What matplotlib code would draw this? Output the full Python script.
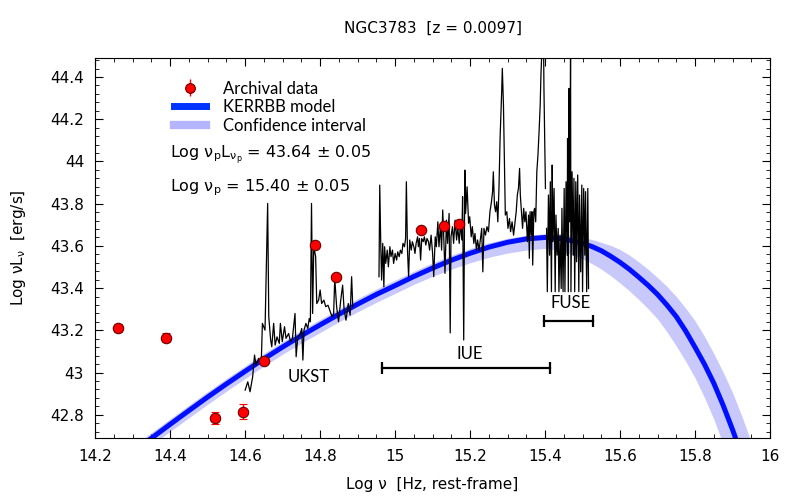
import matplotlib.pyplot as plt
import numpy as np

# archival photometry
arch_x = [14.26, 14.389, 14.52, 14.593, 14.651, 14.785, 14.843, 15.068, 15.131, 15.171]
arch_y = [43.21, 43.165, 42.785, 42.815, 43.055, 43.605, 43.455, 43.675, 43.695, 43.705]
arch_err = [0.02, 0.02, 0.03, 0.035, 0.01, 0.01, 0.01, 0.01, 0.01, 0.01]

# KERRBB model and confidence band
mod_x = [14.30, 14.35, 14.40, 14.45, 14.50, 14.55, 14.60, 14.65, 14.70, 14.75, 14.80, 14.85,
         14.90, 14.95, 15.00, 15.05, 15.10, 15.15, 15.20, 15.25, 15.30, 15.35, 15.40, 15.45,
         15.50, 15.525, 15.55, 15.575, 15.60, 15.625, 15.65, 15.675, 15.70, 15.725, 15.75,
         15.775, 15.80, 15.825, 15.85, 15.875, 15.90, 15.925, 15.95]
mod_y = [42.622, 42.689, 42.755, 42.820, 42.884, 42.946, 43.006, 43.065, 43.121, 43.175,
         43.226, 43.276, 43.324, 43.370, 43.412, 43.455, 43.495, 43.532, 43.565, 43.594,
         43.617, 43.633, 43.640, 43.633, 43.612, 43.597, 43.577, 43.551, 43.522, 43.489,
         43.452, 43.413, 43.370, 43.320, 43.265, 43.197, 43.120, 43.040, 42.950, 42.845,
         42.730, 42.605, 42.470]
band_hi = [42.650, 42.716, 42.781, 42.846, 42.910, 42.972, 43.032, 43.091, 43.147, 43.201,
           43.252, 43.302, 43.350, 43.396, 43.438, 43.480, 43.520, 43.556, 43.588, 43.615,
           43.636, 43.650, 43.658, 43.655, 43.640, 43.630, 43.617, 43.602, 43.583, 43.556,
           43.524, 43.489, 43.450, 43.408, 43.360, 43.305, 43.245, 43.172, 43.090, 43.002,
           42.905, 42.793, 42.670]
band_lo = [42.590, 42.656, 42.722, 42.786, 42.850, 42.912, 42.972, 43.031, 43.087, 43.140,
           43.190, 43.240, 43.288, 43.333, 43.375, 43.418, 43.456, 43.490, 43.520, 43.546,
           43.566, 43.580, 43.588, 43.575, 43.538, 43.516, 43.490, 43.459, 43.424, 43.387,
           43.346, 43.302, 43.254, 43.193, 43.126, 43.054, 42.975, 42.882, 42.780, 42.660,
           42.530, 42.395, 42.250]

# optical spectrum (UKST)
ukst_x = [14.600, 14.607, 14.613, 14.620, 14.625, 14.629, 14.636, 14.643, 14.646, 14.653,
          14.660, 14.663, 14.668, 14.671, 14.676, 14.680, 14.685, 14.691, 14.694, 14.699,
          14.705, 14.709, 14.716, 14.721, 14.726, 14.733, 14.736, 14.740, 14.747, 14.751,
          14.754, 14.757, 14.762, 14.767, 14.771, 14.774, 14.777, 14.780, 14.783, 14.788,
          14.791, 14.796, 14.800, 14.804, 14.810, 14.815, 14.821, 14.827, 14.832, 14.836,
          14.839, 14.844, 14.849, 14.855, 14.860, 14.864, 14.869, 14.875, 14.880, 14.884,
          14.887]
ukst_y = [42.917, 42.956, 42.909, 42.980, 43.083, 43.035, 43.067, 43.051, 43.233, 43.201,
          43.801, 43.264, 43.154, 43.122, 43.233, 43.130, 43.169, 43.138, 43.233, 43.146,
          43.217, 43.162, 43.185, 43.146, 43.162, 43.280, 43.075, 43.162, 43.185, 43.209,
          43.059, 43.201, 43.233, 43.209, 43.256, 43.241, 43.801, 43.280, 43.596, 43.549,
          43.327, 43.343, 43.391, 43.327, 43.343, 43.312, 43.319, 43.288, 43.264, 43.280,
          43.446, 43.312, 43.241, 43.343, 43.414, 43.296, 43.248, 43.327, 43.272, 43.454,
          43.312]

# UV spectrum (IUE)
iue_x = [14.957, 14.959, 14.962, 14.964, 14.967, 14.970, 14.972, 14.975, 14.979, 14.982,
         14.986, 14.989, 14.993, 14.996, 15.000, 15.004, 15.007, 15.011, 15.014, 15.018,
         15.021, 15.025, 15.028, 15.030, 15.033, 15.036, 15.039, 15.043, 15.046, 15.050,
         15.053, 15.056, 15.060, 15.062, 15.065, 15.068, 15.071, 15.075, 15.078, 15.082,
         15.085, 15.089, 15.092, 15.096, 15.100, 15.103, 15.107, 15.110, 15.114, 15.117,
         15.121, 15.124, 15.127, 15.130, 15.133, 15.137, 15.140, 15.144, 15.147, 15.149,
         15.153, 15.156, 15.160, 15.164, 15.167, 15.171, 15.174, 15.178, 15.180, 15.183,
         15.186, 15.188, 15.192, 15.196, 15.199, 15.203, 15.206, 15.210, 15.213, 15.217,
         15.220, 15.224, 15.231, 15.234, 15.237, 15.241, 15.245, 15.249, 15.253, 15.257,
         15.260, 15.262, 15.265, 15.268, 15.271, 15.274, 15.277, 15.280, 15.284, 15.286,
         15.289, 15.292, 15.294, 15.298, 15.301, 15.305, 15.308, 15.312, 15.316, 15.319,
         15.323, 15.326, 15.329, 15.332, 15.334, 15.337, 15.340, 15.343, 15.346, 15.349,
         15.353, 15.356, 15.358, 15.360, 15.363, 15.365, 15.367, 15.370, 15.372, 15.375,
         15.378, 15.381, 15.384, 15.387, 15.389, 15.392, 15.396, 15.397, 15.399, 15.401]
iue_y = [43.454, 43.888, 43.580, 43.438, 43.612, 43.406, 43.596, 43.517, 43.580, 43.501,
         43.596, 43.549, 43.580, 43.517, 43.564, 43.533, 43.572, 43.549, 43.580, 43.564,
         43.612, 43.596, 43.635, 43.904, 43.580, 43.454, 43.628, 43.580, 43.620, 43.596,
         43.564, 43.612, 43.643, 43.596, 43.635, 43.533, 43.635, 43.620, 43.643, 43.604,
         43.635, 43.620, 43.580, 43.651, 43.564, 43.454, 43.643, 43.596, 43.714, 43.596,
         43.699, 43.580, 43.770, 43.628, 43.470, 43.722, 43.612, 43.754, 43.188, 43.643,
         43.691, 43.612, 43.722, 43.628, 43.691, 43.612, 43.707, 43.628, 43.833, 43.154,
         43.959, 43.754, 43.880, 43.707, 43.738, 43.643, 43.691, 43.612, 43.659, 43.580,
         43.628, 43.580, 43.683, 43.477, 43.683, 43.651, 43.691, 43.667, 43.762, 43.809,
         43.857, 43.951, 43.793, 43.762, 43.809, 43.714, 43.872, 44.109, 44.315, 44.441,
         44.267, 43.951, 43.746, 43.762, 43.683, 43.730, 43.667, 43.714, 43.651, 43.699,
         43.762, 43.841, 43.872, 43.967, 43.841, 43.762, 43.683, 43.778, 43.714, 43.762,
         43.620, 43.746, 43.541, 43.762, 43.651, 43.762, 43.509, 43.762, 43.778, 43.714,
         43.951, 44.030, 44.141, 44.267, 44.410, 44.550, 44.550, 44.346, 44.109, 43.872]

# far-UV spectrum (FUSE)
fuse_x = [15.404, 15.406, 15.409, 15.412, 15.414, 15.417, 15.419, 15.421, 15.424, 15.427,
          15.429, 15.432, 15.435, 15.437, 15.440, 15.443, 15.445, 15.448, 15.451, 15.453,
          15.456, 15.459, 15.460, 15.462, 15.464, 15.466, 15.468, 15.469, 15.472, 15.475,
          15.477, 15.479, 15.482, 15.484, 15.487, 15.490, 15.492, 15.495, 15.498, 15.500,
          15.503, 15.506, 15.508, 15.511, 15.514, 15.516]
fuse_y = [43.683, 43.383, 43.841, 43.556, 43.904, 43.383, 43.983, 43.620, 43.872, 43.383,
          43.746, 43.556, 43.683, 43.383, 43.651, 43.398, 43.778, 43.383, 43.872, 43.383,
          43.904, 43.556, 44.109, 43.383, 44.346, 43.714, 44.550, 43.383, 43.951, 43.556,
          43.920, 43.383, 43.904, 43.525, 43.936, 43.383, 43.841, 43.477, 43.888, 43.383,
          43.872, 43.556, 43.857, 43.383, 43.872, 43.398]

# instrument coverage bars
iue_range = [14.965, 15.413]
fuse_range = [15.396, 15.529]

fig = plt.figure(figsize=(8, 5), dpi=100)
ax = fig.add_axes([0.119, 0.124, 0.8435, 0.76])

ax.fill_between(mod_x, band_lo, band_hi, color='#c8c8fa', lw=0, zorder=1)
ax.plot(mod_x, mod_y, color='#0010ff', lw=3.6, zorder=2)

ax.plot(ukst_x, ukst_y, color='k', lw=0.9, zorder=3)
ax.plot(iue_x, iue_y, color='k', lw=0.9, zorder=3)
ax.plot(fuse_x, fuse_y, color='k', lw=0.9, zorder=3)

ax.errorbar(arch_x, arch_y, yerr=arch_err, fmt='o', ms=7.5, mfc='red', mec='#6a0000', mew=0.8,
            ecolor='red', elinewidth=1, capsize=3, zorder=5)

# coverage bars
ax.plot(iue_range, [43.02, 43.02], color='k', lw=1.6, marker='|', ms=9, mew=1.6)
ax.plot(fuse_range, [43.245, 43.245], color='k', lw=1.6, marker='|', ms=9, mew=1.6)
ax.text(14.769, 42.98, 'UKST', family='Lato', fontsize=12, ha='center', va='center')
ax.text(15.2, 43.09, 'IUE', family='Lato', fontsize=12, ha='center', va='center')
ax.text(15.467, 43.33, 'FUSE', family='Lato', fontsize=12, ha='center', va='center')

ax.text(14.4, 44.03, r'Log $\mathregular{\nu_p L_{\nu_p}}$ = 43.64 ± 0.05', fontsize=11.5, va='center')
ax.text(14.4, 43.875, r'Log $\mathregular{\nu_p}$ = 15.40 ± 0.05', fontsize=11.5, va='center')

# legend handles
h1 = ax.errorbar([], [], yerr=[], fmt='o', ms=7, mfc='red', mec='#6a0000', mew=0.8,
                 ecolor='red', elinewidth=1, capsize=3)
h2, = ax.plot([], [], color='#0033ff', lw=5)
h3, = ax.plot([], [], color='#b4b4ff', lw=6)
ax.legend([h1, h2, h3], ['Archival data', 'KERRBB model', 'Confidence interval'],
          loc='upper left', bbox_to_anchor=(0.095, 0.98), frameon=False,
          prop={'family': 'Lato', 'size': 12}, handlelength=1.9, labelspacing=0.15,
          handletextpad=1.0)

ax.set_xlim(14.2, 16.0)
ax.set_ylim(42.69, 44.49)
ax.set_xticks(np.arange(14.2, 16.01, 0.2))
ax.set_xticklabels(['14.2', '14.4', '14.6', '14.8', '15', '15.2', '15.4', '15.6', '15.8', '16'])
ax.set_yticks(np.arange(42.8, 44.41, 0.2))
ax.set_yticklabels(['42.8', '43', '43.2', '43.4', '43.6', '43.8', '44', '44.2', '44.4'])
ax.set_xticks(np.arange(14.2, 16.01, 0.05), minor=True)
ax.set_yticks(np.arange(42.72, 44.49, 0.04), minor=True)
ax.tick_params(which='both', direction='in', top=True, right=True, labelsize=11, pad=8)
ax.tick_params(which='major', length=6)
ax.tick_params(which='minor', length=3)

ax.set_xlabel(r'Log ν  [Hz, rest-frame]', fontsize=11, labelpad=9)
ax.set_ylabel(r'Log $\mathregular{\nu L_\nu}$  [erg/s]', fontsize=11, labelpad=16)
ax.set_title('NGC3783  [z = 0.0097]', fontsize=11, pad=18)

fig.savefig('out.png', dpi=100)
